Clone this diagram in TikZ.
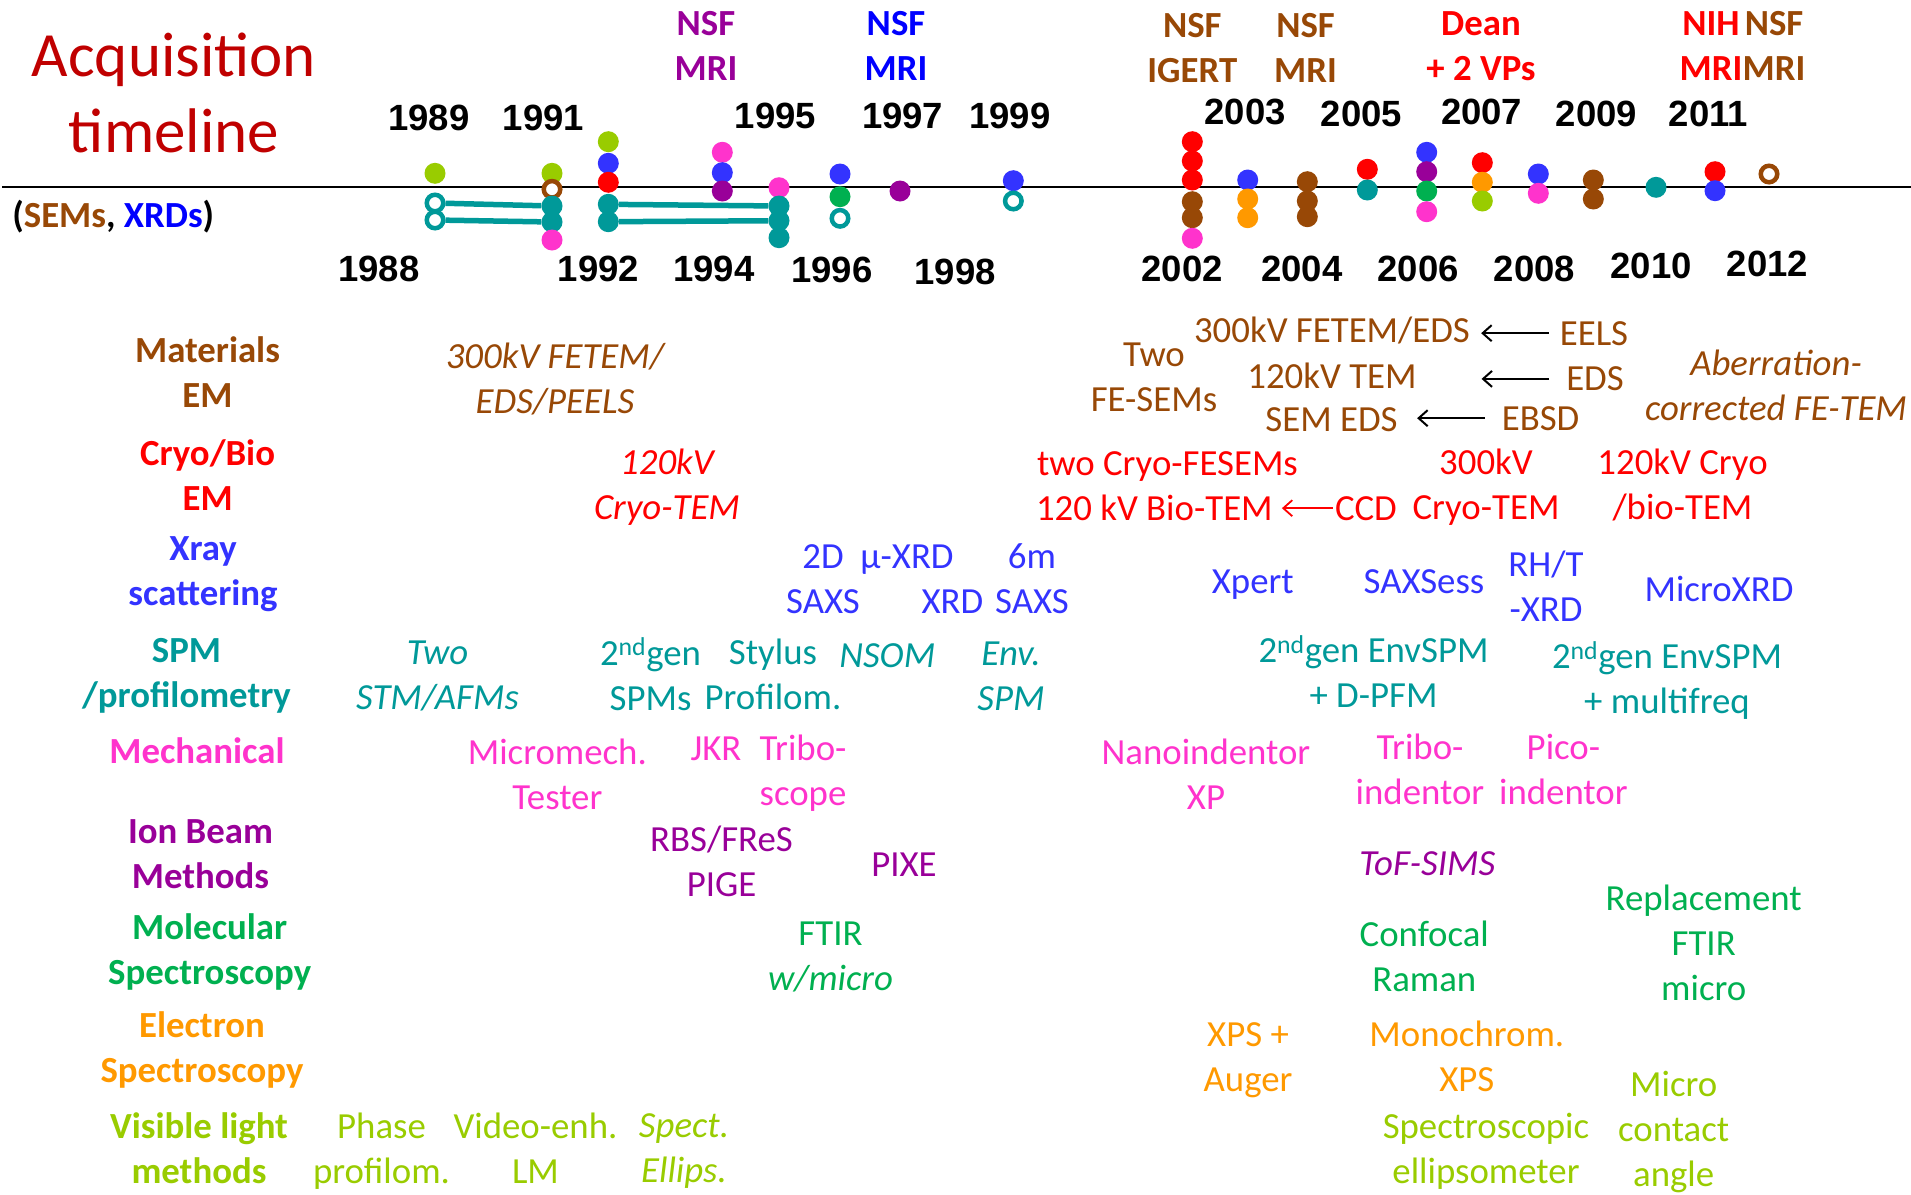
\documentclass[tikz,border=0pt]{standalone}
\usepackage{fontspec}
\setmainfont{Carlito}
\newfontfamily\yearfont{Liberation Sans}
\usetikzlibrary{arrows.meta,backgrounds,calc}

\definecolor{cbrown}{RGB}{152,72,6}
\definecolor{cred}{RGB}{255,0,0}
\definecolor{cblue}{RGB}{51,51,255}
\definecolor{pureblue}{RGB}{0,0,255}
\definecolor{cteal}{RGB}{0,153,153}
\definecolor{cpink}{RGB}{255,51,204}
\definecolor{cpurple}{RGB}{153,0,153}
\definecolor{cgreen}{RGB}{0,176,80}
\definecolor{corange}{RGB}{255,153,0}
\definecolor{clime}{RGB}{153,204,0}
\definecolor{cdarkred}{RGB}{192,0,0}

% stacked, centred lines; the node baseline is the first line's baseline
\newcommand\stk[1]{\begin{tabular}[t]{@{}c@{}}#1\end{tabular}}

\tikzset{
  txt/.style={inner sep=0pt, anchor=base, font=\fontsize{36.8}{45}\selectfont},
  itx/.style={inner sep=0pt, anchor=base, font=\fontsize{36.8}{45}\selectfont\itshape},
  cat/.style={inner sep=0pt, anchor=base, font=\fontsize{36.8}{45}\selectfont\bfseries},
  yr/.style={inner sep=0pt, anchor=base, font=\yearfont\fontsize{36.5}{44}\selectfont\bfseries},
  dot/.style={circle, inner sep=0pt, minimum size=21pt, draw=none},
  ring/.style={circle, inner sep=0pt, minimum size=16.5pt, line width=4.5pt, fill=white},
  bar/.style={line width=5.5pt, cteal},
  arr/.style={line width=2pt, -{Straight Barb[length=9pt,width=16pt]}},
}

\begin{document}
\begin{tikzpicture}[x=1pt,y=-1pt]
\begin{scope}[on background layer]
\fill[white] (0,0) rectangle (1911,1194);
\end{scope}
\useasboundingbox (0,0) rectangle (1911,1194);

% ---- title ----
\node[inner sep=0pt, anchor=base, font=\fontsize{63}{76}\selectfont, text=cdarkred] (title) at (174,76.7) {\stk{Acquisition\\timeline}};
\node[cat, anchor=base west] (legend) at (12.2,227) {(\textcolor{cbrown}{SEMs}, \textcolor{pureblue}{XRDs})};

% ---- time axis ----
\coordinate (axs) at (2,187);
\coordinate (axe) at (1911,187);
\draw[line width=2pt] (axs) -- (axe);

% ---- years ----
\node[yr] (y1989) at (428.8,130) {1989};
\node[yr] (y1991) at (543.3,130) {1991};
\node[yr] (y1995) at (775.5,128.5) {1995};
\node[yr] (y1997) at (902.6,128.5) {1997};
\node[yr] (y1999) at (1009.8,128.5) {1999};
\node[yr] (y2003) at (1245,124) {2003};
\node[yr] (y2005) at (1361.5,126) {2005};
\node[yr] (y2007) at (1481.6,124) {2007};
\node[yr] (y2009) at (1596.5,126) {2009};
\node[yr] (y2011) at (1708.3,126) {2011};
\node[yr] (y1988) at (379,281.7) {1988};
\node[yr] (y1992) at (598.5,281.7) {1992};
\node[yr] (y1994) at (714,281.7) {1994};
\node[yr] (y1996) at (832,282.7) {1996};
\node[yr] (y1998) at (955,284) {1998};
\node[yr] (y2002) at (1182,281.7) {2002};
\node[yr] (y2004) at (1301.8,281.7) {2004};
\node[yr] (y2006) at (1418,281.7) {2006};
\node[yr] (y2008) at (1534.5,281.7) {2008};
\node[yr] (y2010) at (1651,278.3) {2010};
\node[yr] (y2012) at (1767.4,276.7) {2012};

% ---- funding ----
\node[cat, text=cpurple] (f94) at (706,35) {\stk{NSF\\MRI}};
\node[cat, text=pureblue] (f97) at (896,35) {\stk{NSF\\MRI}};
\node[cat, text=cbrown] (f02) at (1192.3,37.3) {\stk{NSF\\IGERT}};
\node[cat, text=cbrown] (f04) at (1305.5,37.3) {\stk{NSF\\MRI}};
\node[cat, text=cred] (f07) at (1481,35) {\stk{Dean\\+ 2 VPs}};
\node[cat, text=cred] (f11a) at (1711,35) {\stk{NIH\\MRI}};
\node[cat, text=cbrown] (f11b) at (1774,35) {\stk{NSF\\MRI}};

% ---- dots ----
\node[dot, fill=clime] (d89a) at (435,173.3) {};
\node[ring, draw=cteal] (r89a) at (435,203) {};
\node[ring, draw=cteal] (r89b) at (435,220) {};

\node[dot, fill=clime] (d91a) at (552,173.3) {};
\node[ring, draw=cbrown] (r91) at (552,189.3) {};
\node[dot, fill=cteal] (t91a) at (552,206) {};
\node[dot, fill=cteal] (t91b) at (552,222) {};
\node[dot, fill=cpink] (d91b) at (552,240) {};

\node[dot, fill=clime] (d92a) at (608.3,141.7) {};
\node[dot, fill=cblue] (d92b) at (608.3,163.3) {};
\node[dot, fill=cred] (d92c) at (608.3,182.3) {};
\node[dot, fill=cteal] (t92a) at (608.3,204.3) {};
\node[dot, fill=cteal] (t92b) at (608.3,221.7) {};

\node[dot, fill=cpink] (d94a) at (722.3,152.3) {};
\node[dot, fill=cblue] (d94b) at (722.3,172.7) {};
\node[dot, fill=cpurple] (d94c) at (722.3,191) {};

\node[dot, fill=cpink] (d95a) at (779,187.7) {};
\node[dot, fill=cteal] (t95a) at (779,206) {};
\node[dot, fill=cteal] (t95b) at (779,220.7) {};
\node[dot, fill=cteal] (t95c) at (779,237.7) {};

\node[dot, fill=cblue] (d96a) at (840,174) {};
\node[dot, fill=cgreen] (d96b) at (840,196.7) {};
\node[ring, draw=cteal] (r96) at (840,218.3) {};

\node[dot, fill=cpurple] (d97) at (900,191) {};

\node[dot, fill=cblue] (d99) at (1013.3,180.7) {};
\node[ring, draw=cteal] (r99) at (1013.3,201) {};

\node[dot, fill=cred] (d02a) at (1192.3,141.7) {};
\node[dot, fill=cred] (d02b) at (1192.3,161) {};
\node[dot, fill=cred] (d02c) at (1192.3,180) {};
\node[dot, fill=cbrown] (d02d) at (1192.3,201.7) {};
\node[dot, fill=cbrown] (d02e) at (1192.3,217.7) {};
\node[dot, fill=cpink] (d02f) at (1192.3,238.3) {};

\node[dot, fill=cblue] (d03a) at (1247.7,180) {};
\node[dot, fill=corange] (d03b) at (1247.7,199) {};
\node[dot, fill=corange] (d03c) at (1247.7,217.7) {};

\node[dot, fill=cbrown] (d04a) at (1307.3,181.7) {};
\node[dot, fill=cbrown] (d04b) at (1307.3,201) {};
\node[dot, fill=cbrown] (d04c) at (1307.3,216.7) {};

\node[dot, fill=cred] (d05a) at (1367.3,169.3) {};
\node[dot, fill=cteal] (d05b) at (1367.3,190) {};

\node[dot, fill=cblue] (d06a) at (1426.7,152.3) {};
\node[dot, fill=cpurple] (d06b) at (1426.7,171.7) {};
\node[dot, fill=cgreen] (d06c) at (1426.7,191) {};
\node[dot, fill=cpink] (d06d) at (1426.7,211.7) {};

\node[dot, fill=cred] (d07a) at (1482.3,162.7) {};
\node[dot, fill=corange] (d07b) at (1482.3,182.3) {};
\node[dot, fill=clime] (d07c) at (1482.3,201) {};

\node[dot, fill=cblue] (d08a) at (1538.3,174) {};
\node[dot, fill=cpink] (d08b) at (1538.3,193.3) {};

\node[dot, fill=cbrown] (d09a) at (1593.3,180) {};
\node[dot, fill=cbrown] (d09b) at (1593.3,199) {};

\node[dot, fill=cteal] (d10) at (1656,187.3) {};

\node[dot, fill=cred] (d11a) at (1715,171.7) {};
\node[dot, fill=cblue] (d11b) at (1715,190.7) {};

\node[ring, draw=cbrown] (r12) at (1769,174) {};

% teal bars joining the paired instruments (behind the dots)
\begin{scope}[on background layer]
\draw[bar] (r89a) -- (t91a);
\draw[bar] (r89b) -- (t91b);
\draw[bar] (t92a) -- (t95a);
\draw[bar] (t92b) -- (t95b);
\end{scope}

% ---- category labels ----
\node[cat, text=cbrown] (cmat) at (207.5,362.3) {\stk{Materials\\EM}};
\node[cat, text=cred] (ccryo) at (207.6,465) {\stk{Cryo/Bio\\EM}};
\node[cat, text=cblue] (cxray) at (203,560) {\stk{Xray\\scattering}};
\node[cat, text=cteal] (cspm) at (186.5,662.7) {\stk{SPM\\/profilometry}};
\node[cat, text=cpink] (cmech) at (197,763.3) {Mechanical};
\node[cat, text=cpurple] (cion) at (200.5,843.3) {\stk{Ion Beam\\Methods}};
\node[cat, text=cgreen] (cmol) at (209.7,939.3) {\stk{Molecular\\Spectroscopy}};
\node[cat, text=corange] (celec) at (202,1037.7) {\stk{Electron\\Spectroscopy}};
\node[cat, text=clime] (cvis) at (199,1138.3) {\stk{Visible light\\methods}};

% ---- materials EM ----
\node[itx, text=cbrown] (m1) at (555,368.3) {\stk{300kV FETEM/\\EDS/PEELS}};
\node[txt, text=cbrown] (m2) at (1154,366.7) {\stk{Two\\FE-SEMs}};
\node[txt, text=cbrown] (fetem) at (1332,342.7) {300kV FETEM/EDS};
\node[txt, text=cbrown] (eels) at (1594,345) {EELS};
\node[txt, text=cbrown] (tem120) at (1332,388.3) {120kV TEM};
\node[txt, text=cbrown] (edsx) at (1595,390.7) {EDS};
\node[txt, text=cbrown] (semeds) at (1331.5,431.7) {SEM EDS};
\node[txt, text=cbrown] (ebsd) at (1540.6,430) {EBSD};
\node[itx, text=cbrown] (m3) at (1776,375) {\stk{Aberration-\\corrected FE-TEM}};
\draw[arr] ($(eels.west)+(-11,0)$) -- ($(eels.west)+(-78.5,0)$);
\draw[arr] ($(edsx.west)+(-17,0)$) -- ($(edsx.west)+(-84.5,0)$);
\draw[arr] ($(ebsd.west)+(-17,0)$) -- ($(ebsd.west)+(-84.5,0)$);

% ---- cryo/bio EM ----
\node[itx, text=cred] (b1) at (667,474) {\stk{120kV\\Cryo-TEM}};
\node[txt, text=cred] (b2) at (1167.5,475) {two Cryo-FESEMs};
\node[txt, text=cred, anchor=base west] (biotem) at (1035.8,520) {120 kV Bio-TEM};
\node[txt, text=cred, anchor=base west] (ccd) at (1334.8,520) {CCD};
\node[txt, text=cred] (b3) at (1486,474) {\stk{300kV\\Cryo-TEM}};
\node[txt, text=cred] (b4) at (1682.5,474) {\stk{120kV Cryo\\/bio-TEM}};
\draw[arr, cred, line width=1.8pt] ($(ccd.west)+(-2,0)$) -- ($(ccd.west -| biotem.east)+(9,0)$);

% ---- x-ray scattering ----
\node[txt, text=cblue] (x1) at (823,568) {\stk{2D\\SAXS}};
\node[txt, text=cblue] (x2) at (907,568) {µ-XRD};
\node[txt, text=cblue] (x3) at (952.5,613.3) {XRD};
\node[txt, text=cblue] (x4) at (1032,568.3) {\stk{6m\\SAXS}};
\node[txt, text=cblue] (x5) at (1252.8,593.3) {Xpert};
\node[txt, text=cblue] (x6) at (1424,593.3) {SAXSess};
\node[txt, text=cblue] (x7) at (1546,576) {\stk{RH/T\\-XRD}};
\node[txt, text=cblue] (x8) at (1719,601.7) {MicroXRD};

% ---- SPM / profilometry ----
\node[itx, text=cteal] (s1) at (437.5,664.3) {\stk{Two\\STM/AFMs}};
\node[txt, text=cteal] (s2) at (650.5,665) {\stk{2\textsuperscript{nd}gen\\SPMs}};
\node[txt, text=cteal] (s3) at (773,664.5) {\stk{Stylus\\Profilom.}};
\node[itx, text=cteal] (s4) at (887.3,667.5) {NSOM};
\node[itx, text=cteal] (s5) at (1011,665.7) {\stk{Env.\\SPM}};
\node[txt, text=cteal] (s6) at (1373.5,662.7) {\stk{2\textsuperscript{nd}gen EnvSPM\\+ D-PFM}};
\node[txt, text=cteal] (s7) at (1667,668.3) {\stk{2\textsuperscript{nd}gen EnvSPM\\+ multifreq}};

% ---- mechanical ----
\node[txt, text=cpink] (k1) at (557.3,764) {\stk{Micromech.\\Tester}};
\node[txt, text=cpink] (k2) at (716,760.7) {JKR};
\node[txt, text=cpink] (k3) at (803,760.7) {\stk{Tribo-\\scope}};
\node[txt, text=cpink] (k4) at (1206,764) {\stk{Nanoindentor\\XP}};
\node[txt, text=cpink] (k5) at (1420,759.3) {\stk{Tribo-\\indentor}};
\node[txt, text=cpink] (k6) at (1563.4,759.3) {\stk{Pico-\\indentor}};

% ---- ion beam ----
\node[txt, text=cpurple] (i1) at (721.5,851) {\stk{RBS/FReS\\PIGE}};
\node[txt, text=cpurple] (i2) at (904,876) {PIXE};
\node[itx, text=cpurple] (i3) at (1427.3,875) {ToF-SIMS};

% ---- molecular spectroscopy ----
\node[txt, text=cgreen] (g1) at (830.5,945) {\stk{FTIR\\\textit{w/micro}}};
\node[txt, text=cgreen] (g2) at (1424.3,946.7) {\stk{Confocal\\Raman}};
\node[txt, text=cgreen] (g3) at (1703.7,910) {\stk{Replacement\\FTIR\\micro}};

% ---- electron spectroscopy ----
\node[txt, text=corange] (e1) at (1248,1046.7) {\stk{XPS +\\Auger}};
\node[txt, text=corange] (e2) at (1466.8,1046.7) {\stk{Monochrom.\\XPS}};

% ---- visible light ----
\node[txt, text=clime] (v1) at (381.5,1138.3) {\stk{Phase\\profilom.}};
\node[txt, text=clime] (v2) at (535.5,1138.3) {\stk{Video-enh.\\LM}};
\node[itx, text=clime] (v3) at (684,1137.7) {\stk{Spect.\\Ellips.}};
\node[txt, text=clime] (v4) at (1486,1138.3) {\stk{Spectroscopic\\ellipsometer}};
\node[txt, text=clime] (v5) at (1673.7,1096.7) {\stk{Micro\\contact\\angle}};
\end{tikzpicture}
\end{document}
